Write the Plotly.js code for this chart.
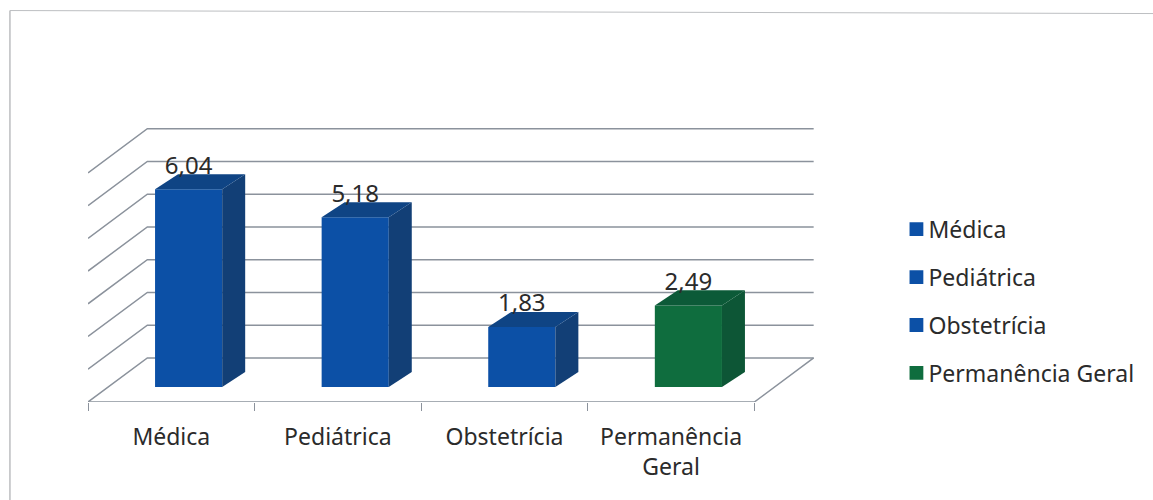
<!DOCTYPE html>
<html><head><meta charset="utf-8">
<script src="https://cdn.plot.ly/plotly-3.0.1.min.js"></script>
<style>html,body{margin:0;padding:0;background:#fff}#c{width:1153px;height:500px}</style>
</head><body><div id="c"></div>
<script>
const categories = ['Médica','Pediátrica','Obstetrícia','Permanência Geral'];
const tickLabels = ['Médica','Pediátrica','Obstetrícia','Permanência<br>Geral'];
const values = [6.04,5.18,1.83,2.49];
const valueLabels = ['6,04','5,18','1,83','2,49'];
const gridLevels = [0,1,2,3,4,5,6,7];
const frontColors = ['#0c50a6','#0c50a6','#0c50a6','#0f6d3e'];
const sideColors = ['#123f76','#123f76','#123f76','#0d5636'];
const topColors = ['#0f4484','#0f4484','#0f4484','#0c5a38'];

const FONT = '"Noto Sans", sans-serif', TEXT = '#2b2b2b', GRID = '#8b929c';
const wallDX = 0.356, wallDY = 1.346;   // floor depth, in axis units
const barBase = 0.46, barShift = 0.604, barWidth = 0.403;
const barDX = 0.138, barDY = 0.46;      // column depth, in axis units
const xMax = 4.4, yMax = 8.4;           // axis ranges

// pixel frame of the plot area
const L = 88, B = 402, PW = 166.5*xMax, PH = 32.7*yMax;
const px = x => (x-L)/PW, py = y => (B-y)/PH;

const gx = [], gy = [];
gridLevels.forEach(v => {
  gx.push(0, wallDX, categories.length + wallDX, null);
  gy.push(v, v + wallDY, v + wallDY, null);
});
gx.push(0, categories.length, categories.length + wallDX);
gy.push(0, 0, wallDY);

const traces = [{
  type:'scatter', mode:'lines', x:gx, y:gy, xaxis:'x', yaxis:'y',
  line:{color:GRID,width:1.5}, showlegend:false, hoverinfo:'skip'
}];
categories.forEach((c,i) => {
  const xc = i + barShift, l = xc - barWidth/2, r = xc + barWidth/2, v = values[i];
  traces.push({
    type:'bar', name:c, x:[xc], y:[v], base:[barBase], width:[barWidth],
    xaxis:'x2', yaxis:'y2', legendgroup:c,
    marker:{color:frontColors[i],line:{width:0}}
  });
  traces.push({
    type:'scatter', mode:'lines', fill:'toself', fillcolor:sideColors[i], line:{width:0,color:sideColors[i]},
    x:[r, r+barDX, r+barDX, r, r], y:[barBase, barBase+barDY, barBase+v+barDY, barBase+v, barBase],
    xaxis:'x2', yaxis:'y2', showlegend:false, legendgroup:c, hoverinfo:'skip'
  });
  traces.push({
    type:'scatter', mode:'lines', fill:'toself', fillcolor:topColors[i], line:{width:0,color:topColors[i]},
    x:[l, l+barDX, r+barDX, r, l], y:[barBase+v, barBase+v+barDY, barBase+v+barDY, barBase+v, barBase+v],
    xaxis:'x2', yaxis:'y2', showlegend:false, legendgroup:c, hoverinfo:'skip'
  });
});
traces.push({
  type:'scatter', mode:'text', x:values.map((_,i)=>i+barShift), y:values.map(v=>v+1.12),
  text:valueLabels, textposition:'middle center', textfont:{family:FONT,size:24,color:TEXT},
  xaxis:'x2', yaxis:'y2', showlegend:false, hoverinfo:'skip'
});

const border = [[10,11,10,500,'#9b9da0'],[10,11,1153,14,'#bdbfc2']].map(b => ({
  type:'line', xref:'paper', yref:'paper', layer:'below',
  x0:px(b[0]), x1:px(b[2]), y0:py(b[1]), y1:py(b[3]),
  line:{color:b[4],width:1}
}));

const layout = {
  width:1153, height:500, showlegend:true, barmode:'overlay',
  margin:{l:L,r:1153-L-PW,t:B-PH,b:500-B,pad:0}, paper_bgcolor:'#fff', plot_bgcolor:'rgba(0,0,0,0)',
  font:{family:FONT,color:TEXT},
  shapes:border,
  xaxis:{range:[0,xMax],showgrid:false,zeroline:false,showline:false,
    tickmode:'array',tickvals:categories.map((_,i)=>i+0.5),ticktext:tickLabels,
    ticks:'outside',ticklen:14,tickcolor:'rgba(0,0,0,0)',tickfont:{family:FONT,size:23,color:TEXT},
    minor:{tick0:0,dtick:1,ticks:'outside',ticklen:8,tickwidth:1,tickcolor:GRID,showgrid:false}},
  yaxis:{range:[0,yMax],visible:false,fixedrange:true},
  xaxis2:{range:[0,xMax],overlaying:'x',visible:false},
  yaxis2:{range:[0,yMax],overlaying:'y',visible:false},
  legend:{x:px(888),y:py(208),xref:'paper',yref:'paper',xanchor:'left',yanchor:'top',
    font:{family:FONT,size:23,color:TEXT},tracegroupgap:15,bgcolor:'rgba(0,0,0,0)'}
};
Plotly.newPlot('c',traces,layout,{displayModeBar:false,staticPlot:true}).then(()=>{
  // column swatches sit closer to their labels and are slightly larger in the reference
  document.querySelectorAll('.legend .legendpoints').forEach(g=>g.setAttribute('transform','translate(8,0)'));
  document.querySelectorAll('.legend .legendpoints path').forEach(p=>p.setAttribute('transform',(p.getAttribute('transform')||'')+' scale(1.15)'));
});
</script></body></html>
